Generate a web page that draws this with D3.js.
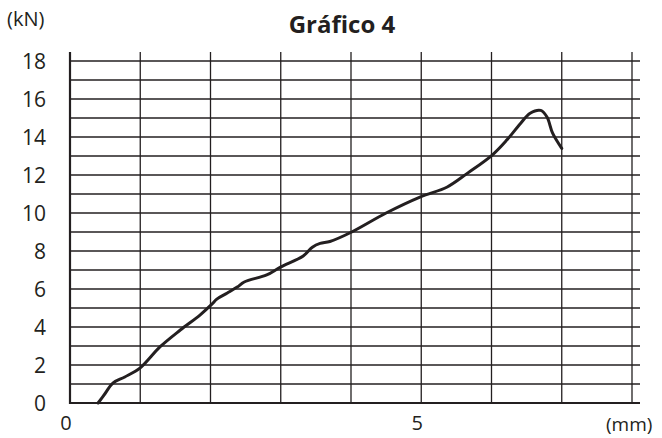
<!DOCTYPE html>
<html>
<head>
<meta charset="utf-8">
<script src="https://cdn.jsdelivr.net/npm/d3@7"></script>
<style>
  body { margin: 0; background: #fff; }
  svg { display: block; }
  text { font-family: "Open Sans", "Noto Sans", sans-serif; fill: #231f20; }
</style>
</head>
<body>
<svg id="chart" width="662" height="438"></svg>
<script>
// desplazamiento (mm) y fuerza (kN)
const desplazamiento = [0.40, 0.50, 0.61, 0.78, 1.00, 1.28, 1.57, 1.85, 2.02, 2.09, 2.24, 2.38, 2.48, 2.80, 2.99, 3.32, 3.45, 3.56, 3.70, 4.01, 4.50, 4.99, 5.37, 5.66, 6.01, 6.22, 6.41, 6.55, 6.70, 6.79, 6.87, 7.00];
const fuerza = [0, 0.5, 1.05, 1.37, 1.85, 2.95, 3.84, 4.63, 5.2, 5.47, 5.79, 6.1, 6.37, 6.74, 7.14, 7.74, 8.2, 8.4, 8.5, 9.0, 10.0, 10.85, 11.37, 12.1, 13.05, 13.85, 14.7, 15.25, 15.4, 15.05, 14.2, 13.4];

const ticksY = [0, 2, 4, 6, 8, 10, 12, 14, 16, 18];
const ticksX = [0, 5];
const lineasY = d3.range(1, 19);
const lineasX = d3.range(1, 9);

const svg = d3.select("#chart");
const color = "#231f20";

const x = d3.scaleLinear().domain([0, 8]).range([70, 632]);
const y = d3.scaleLinear().domain([0, 18]).range([403, 61]);

const derecha = x(8) + 8;
const arriba = y(18) - 9;

// rejilla horizontal
svg.append("g").selectAll("line").data(lineasY).join("line")
  .attr("x1", x(0)).attr("x2", derecha)
  .attr("y1", d => y(d)).attr("y2", d => y(d))
  .attr("stroke", color).attr("stroke-width", 1.3);

// rejilla vertical
svg.append("g").selectAll("line").data(lineasX).join("line")
  .attr("x1", d => x(d)).attr("x2", d => x(d))
  .attr("y1", arriba).attr("y2", y(0))
  .attr("stroke", color).attr("stroke-width", 1.3);

// ejes
svg.append("line")
  .attr("x1", x(0)).attr("x2", x(0)).attr("y1", arriba).attr("y2", y(0) + 1)
  .attr("stroke", color).attr("stroke-width", 2.2);
svg.append("line")
  .attr("x1", x(0) - 1).attr("x2", derecha).attr("y1", y(0)).attr("y2", y(0))
  .attr("stroke", color).attr("stroke-width", 2.2);

// etiquetas eje y
svg.append("g").selectAll("text").data(ticksY).join("text")
  .attr("x", 46).attr("y", d => y(d))
  .attr("dy", "0.36em")
  .attr("text-anchor", "end")
  .attr("font-size", 21)
  .text(d => d);

// etiquetas eje x
svg.append("g").selectAll("text").data(ticksX).join("text")
  .attr("x", d => x(d) - 4).attr("y", 423)
  .attr("dy", "0.36em")
  .attr("text-anchor", "middle")
  .attr("font-size", 20)
  .text(d => d);

svg.append("text").attr("x", 7).attr("y", 19).attr("dy", "0.36em")
  .attr("font-size", 20).text("(kN)");
svg.append("text").attr("x", 606).attr("y", 424).attr("dy", "0.36em")
  .attr("font-size", 19).text("(mm)");

svg.append("text").attr("x", 342).attr("y", 24).attr("dy", "0.36em")
  .attr("text-anchor", "middle")
  .attr("font-size", 24).attr("font-weight", "bold")
  .text("Gráfico 4");

// curva
const puntos = desplazamiento.map((d, i) => [d, fuerza[i]]);
const linea = d3.line()
  .x(d => x(d[0])).y(d => y(d[1]))
  .curve(d3.curveCatmullRom.alpha(0.5));

svg.append("path")
  .datum(puntos)
  .attr("d", linea)
  .attr("fill", "none")
  .attr("stroke", color)
  .attr("stroke-width", 3)
  .attr("stroke-linejoin", "round")
  .attr("stroke-linecap", "round");
</script>
</body>
</html>
